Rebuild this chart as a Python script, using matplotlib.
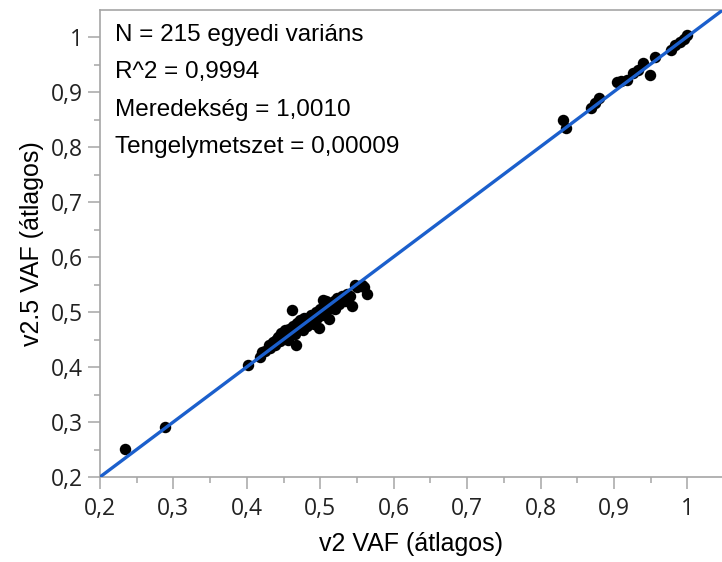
import numpy as np
import matplotlib
matplotlib.use("Agg")
import matplotlib.pyplot as plt
from matplotlib.ticker import MultipleLocator, FuncFormatter

# values (v2 mean VAF vs v2.5 mean VAF)
low_v2 = [0.234, 0.289]
low_v25 = [0.251, 0.291]

mid_v2 = [0.402, 0.418, 0.421, 0.425, 0.430, 0.432, 0.435, 0.438, 0.440, 0.442,
          0.445, 0.447, 0.450, 0.452, 0.455, 0.456, 0.458, 0.460, 0.462, 0.463,
          0.465, 0.467, 0.468, 0.470, 0.472, 0.474, 0.476, 0.478, 0.480, 0.482,
          0.484, 0.486, 0.488, 0.490, 0.492, 0.494, 0.496, 0.498, 0.500, 0.502,
          0.503, 0.505, 0.507, 0.508, 0.510, 0.512, 0.514, 0.516, 0.518, 0.520,
          0.523, 0.526, 0.530, 0.533, 0.536, 0.540, 0.543, 0.547, 0.550, 0.557,
          0.560, 0.564]
mid_v25 = [0.404, 0.418, 0.427, 0.430, 0.440, 0.435, 0.445, 0.440, 0.450, 0.455,
           0.447, 0.462, 0.455, 0.468, 0.460, 0.450, 0.470, 0.465, 0.504, 0.475,
           0.460, 0.440, 0.480, 0.470, 0.485, 0.476, 0.468, 0.490, 0.480, 0.475,
           0.490, 0.483, 0.495, 0.486, 0.479, 0.500, 0.490, 0.471, 0.505, 0.495,
           0.522, 0.500, 0.510, 0.520, 0.505, 0.488, 0.515, 0.508, 0.520, 0.505,
           0.525, 0.515, 0.530, 0.520, 0.533, 0.530, 0.511, 0.549, 0.545, 0.549,
           0.545, 0.533]

high_v2 = [0.831, 0.835, 0.868, 0.874, 0.880, 0.904, 0.910, 0.918, 0.926, 0.933,
           0.940, 0.949, 0.956, 0.977, 0.983, 0.990, 0.995, 0.999]
high_v25 = [0.849, 0.835, 0.871, 0.880, 0.889, 0.918, 0.920, 0.922, 0.935, 0.940,
            0.953, 0.931, 0.964, 0.976, 0.985, 0.991, 0.996, 1.004]

slope = 1.0010
intercept = 0.00009
stats_lines = ["N = 215 egyedi variáns", "R^2 = 0,9994",
               "Meredekség = 1,0010", "Tengelymetszet = 0,00009"]

x = np.array(low_v2 + mid_v2 + high_v2)
y = np.array(low_v25 + mid_v25 + high_v25)

fig = plt.figure(figsize=(7.22, 5.62), dpi=100)
ax = fig.add_axes([0.1385, 0.151, 0.8615, 0.831])

ax.scatter(x, y, s=68, color="black", zorder=2, linewidths=0)

xmin, xmax = 0.2, 1.047
fit_x = np.array([xmin, xmax])
ax.plot(fit_x, slope * fit_x + intercept, color="#1b5fcc", lw=2.4, zorder=3)

ax.set_xlim(xmin, xmax)
ax.set_ylim(0.2, 1.049)

ax.xaxis.set_major_locator(MultipleLocator(0.1))
ax.yaxis.set_major_locator(MultipleLocator(0.1))
ax.xaxis.set_minor_locator(MultipleLocator(0.05))
ax.yaxis.set_minor_locator(MultipleLocator(0.05))
comma = FuncFormatter(lambda v, p: ("%g" % round(v, 2)).replace(".", ","))
ax.xaxis.set_major_formatter(comma)
ax.yaxis.set_major_formatter(comma)

for s in ["left", "bottom", "top"]:
    ax.spines[s].set_color("#a6a6a6")
    ax.spines[s].set_linewidth(1.2)
ax.spines["right"].set_visible(False)

ax.tick_params(which="major", length=8.5, color="#a6a6a6", width=1.1,
               labelsize=16.5, labelcolor="#222222")
ax.tick_params(which="minor", length=4, color="#a6a6a6", width=1.1)
ax.tick_params(axis="y", which="major", pad=3.5)
ax.tick_params(axis="x", which="major", pad=6)
for lab in ax.get_xticklabels() + ax.get_yticklabels():
    lab.set_family("Open Sans")

ax.set_xlabel("v2 VAF (átlagos)", fontsize=18, family="Liberation Sans", labelpad=8)
ax.set_ylabel("v2.5 VAF (átlagos)", fontsize=18, family="Liberation Sans", labelpad=5)

for i, line in enumerate(stats_lines):
    ax.text(0.024, 0.946 - i * 0.0795, line, transform=ax.transAxes,
            fontsize=17.5, family="Liberation Sans", va="center", ha="left")

fig.savefig("out.png", dpi=100)
